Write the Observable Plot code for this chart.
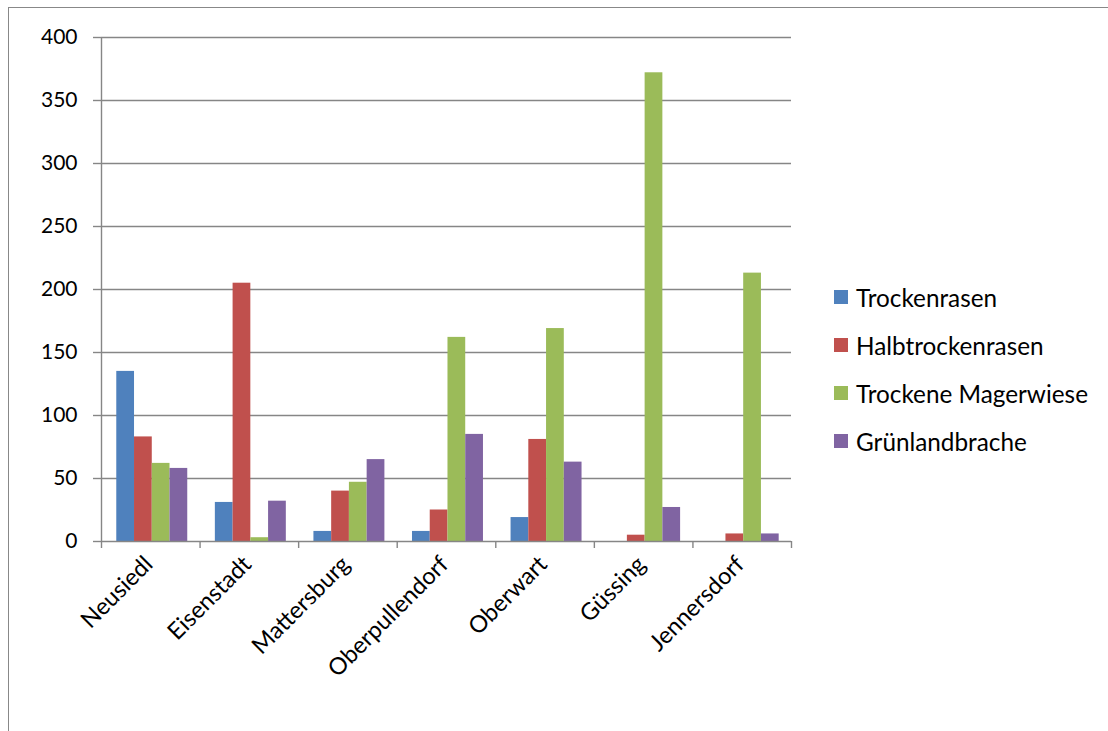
<!DOCTYPE html>
<html>
<head>
<meta charset="utf-8">
<script src="https://cdn.jsdelivr.net/npm/d3@7"></script>
<script src="https://cdn.jsdelivr.net/npm/@observablehq/plot@0.6"></script>
<style>
  html, body { margin: 0; padding: 0; background: #fff; }
  #wrap { position: relative; width: 1108px; height: 731px; overflow: hidden; font-family: Lato, "Open Sans", sans-serif; }
  #frame { position: absolute; left: 8px; top: 7px; width: 1300px; height: 900px; border-top: 1.5px solid #888; border-left: 1.5px solid #888; }
  #chart { position: absolute; left: 0; top: 0; }
  #legend { position: absolute; left: 834px; top: 273px; }
  .item { display: flex; align-items: center; height: 48px; font-size: 24.3px; color: #000; }
  .sw { width: 14px; height: 14px; margin-right: 8px; }
</style>
</head>
<body>
<div id="wrap">
  <div id="frame"></div>
  <div id="chart"></div>
  <div id="legend"></div>
</div>
<script>
const districts = ["Neusiedl", "Eisenstadt", "Mattersburg", "Oberpullendorf", "Oberwart", "Güssing", "Jennersdorf"];
const seriesNames = ["Trockenrasen", "Halbtrockenrasen", "Trockene Magerwiese", "Grünlandbrache"];
const seriesColors = ["#4F81BD", "#C0504D", "#9BBB59", "#8064A2"];
const trockenrasen       = [135, 31, 8, 8, 19, 0, 0];
const halbtrockenrasen   = [83, 205, 40, 25, 81, 5, 6];
const trockeneMagerwiese = [62, 3, 47, 162, 169, 372, 213];
const gruenlandbrache    = [58, 32, 65, 85, 63, 27, 6];
const yTicks = [0, 50, 100, 150, 200, 250, 300, 350, 400];

const seriesValues = [trockenrasen, halbtrockenrasen, trockeneMagerwiese, gruenlandbrache];
const groupStart = 0.155, barW = 0.18;
const rows = [];
districts.forEach((d, i) => {
  seriesValues.forEach((vals, s) => {
    rows.push({district: d, series: seriesNames[s], value: vals[i],
      x1: i + groupStart + s * barW, x2: i + groupStart + (s + 1) * barW});
  });
});
const labels = districts.map((d, i) => ({district: d, x: i + 0.5}));
const bounds = d3.range(districts.length + 1);

const gridColor = "#868686";
const chart = Plot.plot({
  width: 1108,
  height: 731,
  marginLeft: 101,
  marginRight: 317,
  marginTop: 37,
  marginBottom: 190,
  style: {fontFamily: "Lato, 'Open Sans', sans-serif", fontSize: "21px", background: "transparent", color: "#000"},
  x: {type: "linear", domain: [0, districts.length]},
  y: {type: "linear", domain: [0, 400]},
  color: {domain: seriesNames, range: seriesColors},
  marks: [
    Plot.ruleY(yTicks.filter(t => t > 0), {stroke: gridColor, strokeWidth: 1.4}),
    Plot.rectY(rows, {x1: "x1", x2: "x2", y1: 0, y2: "value", fill: "series"}),
    Plot.ruleY([0], {stroke: gridColor, strokeWidth: 1.4}),
    Plot.ruleX([0], {y1: 0, y2: 400, stroke: gridColor, strokeWidth: 1.4}),
    Plot.axisY(yTicks, {tickSize: 8, tickPadding: 16, stroke: gridColor, strokeWidth: 1.4, fill: "#000", fontSize: 21, label: null}),
    Plot.axisX(bounds, {tickSize: 7, tickFormat: () => "", stroke: gridColor, strokeWidth: 1.4, label: null}),
    Plot.text(labels, {x: "x", y: 0, text: "district", rotate: -45, textAnchor: "end", dx: -2, dy: 19, fontSize: 23.5, fill: "#000"})
  ]
});
document.getElementById("chart").appendChild(chart);

const legend = document.getElementById("legend");
seriesNames.forEach((n, i) => {
  const it = document.createElement("div");
  it.className = "item";
  const sw = document.createElement("div");
  sw.className = "sw";
  sw.style.background = seriesColors[i];
  const tx = document.createElement("span");
  tx.textContent = n;
  it.appendChild(sw); it.appendChild(tx);
  legend.appendChild(it);
});
</script>
</body>
</html>
